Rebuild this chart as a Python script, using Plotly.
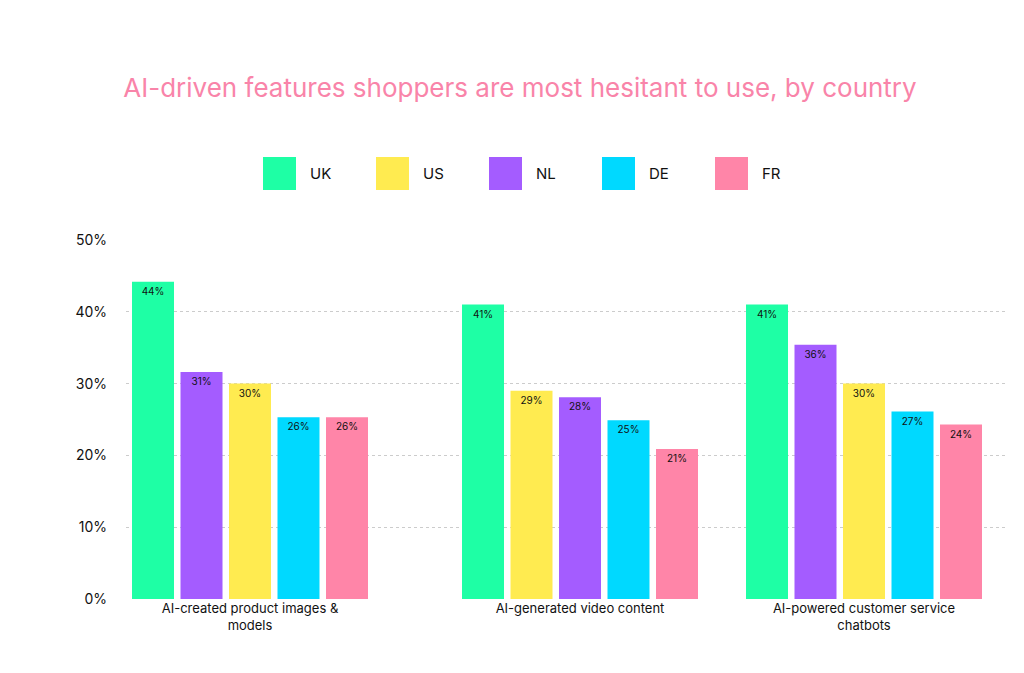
import plotly.graph_objects as go

groups = ["AI-created product images &<br>models", "AI-generated video content", "AI-powered customer service<br>chatbots"]
countries = ["UK", "US", "NL", "DE", "FR"]
values = {
    "UK": [44.2, 41.0, 41.0],
    "US": [30.0, 29.0, 30.0],
    "NL": [31.6, 28.1, 35.4],
    "DE": [25.3, 24.9, 26.1],
    "FR": [25.3, 20.9, 24.3],
}
labels = {
    "UK": ["44%", "41%", "41%"],
    "US": ["30%", "29%", "30%"],
    "NL": ["31%", "28%", "36%"],
    "DE": ["26%", "25%", "27%"],
    "FR": ["26%", "21%", "24%"],
}
colors = {"UK": "#1EFFA5", "US": "#FFEB50", "NL": "#A45CFF", "DE": "#00D9FF", "FR": "#FF85A8"}

group_centers = [242, 572, 856]
pitch = 48.5
bar_w = 42

fig = go.Figure()
for c in countries:
    xs = []
    for gi in range(3):
        order = sorted(countries, key=lambda k: -values[k][gi])
        r = order.index(c)
        xs.append(group_centers[gi] + (r - 2) * pitch)
    fig.add_trace(go.Bar(
        x=xs, y=values[c], width=bar_w, marker=dict(color=colors[c], line=dict(width=0)),
        text=labels[c], textposition="inside", insidetextanchor="start",
        textfont=dict(size=10, color="#111", family="Inter"), name=c, showlegend=False,
        constraintext="none", textangle=0))
# fake: put label near top
fig.update_traces(insidetextanchor="end")

fig.update_layout(
    width=1024, height=673, paper_bgcolor="white", plot_bgcolor="white",
    margin=dict(l=118, r=24, t=232, b=82),
    font=dict(family="Inter", color="#111"),
    title=dict(text="AI-driven features shoppers are most hesitant to use, by country",
               x=0.5, xanchor="center", y=1 - 80/673, yanchor="middle",
               font=dict(size=26, color="#F984A9", family="Inter")),
    uniformtext=dict(minsize=10, mode="show"),
)
fig.update_xaxes(range=[118, 1000], tickvals=group_centers, ticktext=groups,
                 tickfont=dict(size=13), showgrid=False, zeroline=False, showline=False, ticks="")
fig.update_yaxes(range=[0, 50], tickvals=[0, 10, 20, 30, 40, 50],
                 ticktext=["0%", "10%", "20%", "30%", "40%", "50%"],
                 tickfont=dict(size=14), showgrid=True, gridcolor="#cccccc", griddash="dot",
                 zeroline=False, ticklabelstandoff=18)
for i, c in enumerate(countries):
    x0 = 255 + i * 113
    fig.add_shape(type="rect", xref="paper", yref="paper",
                  x0=(x0 - 118) / 882, x1=(x0 + 33 - 118) / 882,
                  y0=(591 - 182) / 359, y1=(591 - 149) / 359,
                  fillcolor=colors[c], line=dict(width=0))
    fig.add_annotation(xref="paper", yref="paper", x=(x0 + 45 - 118) / 882, y=(591 - 165.5) / 359,
                       text=c, showarrow=False, xanchor="left", yanchor="middle",
                       font=dict(size=15, color="#111"))
fig.write_html("out.html")
